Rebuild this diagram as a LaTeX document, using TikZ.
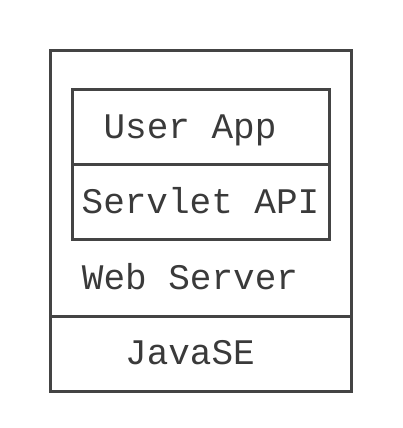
\documentclass[tikz,border=0pt]{standalone}
\usepackage{fontspec}
\setmonofont{Liberation Mono}
\tikzset{
  box/.style={draw=linegray, line width=3pt},
  lbl/.style={font=\ttfamily\fontsize{36}{42}\selectfont, text=textgray, inner sep=0pt, anchor=base}
}
\definecolor{linegray}{HTML}{444444}
\definecolor{textgray}{HTML}{3A3A3A}
\begin{document}
\begin{tikzpicture}[x=1pt,y=-1pt]
\useasboundingbox (0,0) rectangle (402,428);
\draw[box] (50.5,50.5) rectangle (351.5,391);
\draw[box] (50.5,316) -- (351.5,316);
\draw[box] (72,89.5) rectangle (329.5,239);
\draw[box] (72,164) -- (329.5,164);
\node[lbl] (user) at (190,138) {User App};
\node[lbl] (servlet) at (200.5,213) {Servlet API};
\node[lbl] (web) at (190,289) {Web Server};
\node[lbl] (javase) at (190,364) {JavaSE};
\end{tikzpicture}
\end{document}
